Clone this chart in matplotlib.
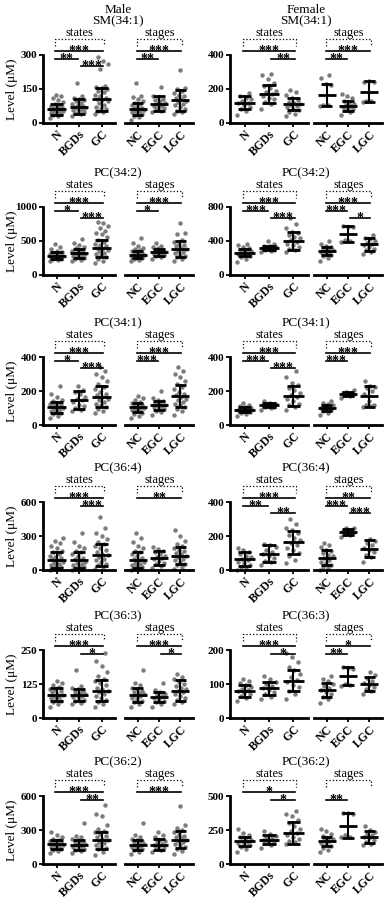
import matplotlib
matplotlib.use('Agg')
import matplotlib.pyplot as plt

plt.rcParams['font.family'] = ['Liberation Serif', 'DejaVu Serif']

W, H = 388, 906

state_names = ['N', 'BGDs', 'GC']
stage_names = ['NC', 'EGC', 'LGC']
lipids = ['SM(34:1)', 'PC(34:2)', 'PC(34:1)', 'PC(36:4)', 'PC(36:3)', 'PC(36:2)']

male_yticks = [[0, 150, 300], [0, 500, 1000], [0, 200, 400], [0, 300, 600], [0, 125, 250], [0, 300, 600]]
female_yticks = [[0, 200, 400], [0, 400, 800], [0, 200, 400], [0, 200, 400], [0, 100, 200], [0, 250, 500]]

# mean and SD per group: N, BGDs, GC, NC, EGC, LGC
male_means = [[60, 72, 105, 62, 85, 100], [285, 317, 390, 300, 335, 385], [103, 147, 165, 103, 116, 170],
              [88, 88, 132, 88, 108, 126], [85, 85, 101, 85, 77, 101], [175, 170, 210, 170, 172, 215]]
male_sds = [[25, 32, 50, 28, 33, 45], [50, 60, 130, 55, 50, 120], [30, 55, 62, 28, 25, 66],
            [70, 72, 95, 72, 60, 75], [24, 22, 40, 25, 20, 40], [40, 45, 75, 45, 50, 75]]
female_means = [[120, 170, 110, 165, 100, 185], [264, 318, 400, 285, 478, 360], [90, 115, 170, 102, 183, 168],
                [66, 97, 164, 72, 222, 126], [80, 87, 110, 83, 123, 100], [167, 180, 230, 167, 283, 200]]
female_sds = [[40, 55, 35, 65, 30, 60], [45, 25, 105, 45, 95, 80], [15, 12, 58, 18, 12, 60],
              [40, 52, 68, 45, 18, 50], [17, 20, 32, 20, 26, 20], [35, 30, 80, 35, 90, 45]]

# individual points (read approximately)
m_sm341 = [
    [22, 30, 35, 38, 42, 45, 48, 50, 52, 55, 57, 58, 60, 62, 65, 68, 70, 72, 75, 80, 85, 92, 100, 110, 118, 125],
    [30, 38, 45, 50, 55, 58, 62, 65, 68, 70, 72, 75, 78, 82, 88, 95, 100, 105, 112, 120, 175],
    [40, 48, 55, 60, 65, 72, 80, 88, 95, 100, 105, 110, 118, 125, 135, 142, 150, 155, 160, 165, 240, 260, 275, 290],
    [15, 25, 32, 38, 42, 48, 52, 55, 58, 62, 65, 68, 72, 78, 82, 88, 95, 105, 115, 120, 175],
    [50, 55, 60, 65, 70, 75, 80, 85, 90, 95, 100, 108, 115, 120, 160],
    [40, 48, 55, 62, 70, 78, 85, 92, 98, 104, 110, 118, 125, 132, 140, 148, 155, 235]]
m_pc342 = [
    [200, 215, 230, 240, 250, 258, 265, 272, 280, 285, 290, 298, 305, 312, 320, 330, 345, 360, 380, 410, 450],
    [200, 220, 240, 255, 265, 275, 285, 295, 305, 315, 325, 335, 345, 360, 375, 390, 410, 440, 470, 530],
    [180, 210, 240, 270, 290, 310, 330, 350, 370, 385, 400, 420, 440, 460, 490, 510, 560, 600, 620, 650, 690, 720, 760, 780],
    [200, 215, 230, 245, 255, 265, 275, 285, 295, 305, 315, 325, 335, 350, 365, 380, 400, 430, 470, 540],
    [240, 260, 275, 290, 300, 310, 320, 330, 340, 350, 360, 375, 390, 410, 430, 470],
    [200, 230, 260, 280, 300, 320, 340, 360, 380, 400, 420, 440, 460, 490, 510, 600, 620, 770]]
m_pc341 = [
    [40, 55, 65, 72, 78, 84, 90, 95, 100, 105, 110, 115, 120, 126, 132, 140, 150, 165, 180, 230],
    [80, 90, 100, 110, 120, 135, 145, 155, 165, 180, 195, 205, 230],
    [70, 85, 95, 105, 115, 125, 135, 145, 155, 165, 175, 185, 195, 210, 225, 240, 260, 280, 300, 320, 340],
    [40, 55, 65, 72, 80, 86, 92, 97, 102, 107, 112, 118, 124, 130, 138, 148, 160, 170],
    [60, 75, 85, 92, 98, 104, 110, 115, 120, 126, 132, 140, 150, 160, 200],
    [60, 80, 95, 105, 115, 125, 135, 145, 155, 165, 175, 185, 195, 210, 225, 240, 260, 280, 300, 320, 340]]
m_pc364 = [
    [0, 5, 15, 25, 35, 45, 55, 65, 75, 85, 95, 105, 115, 125, 140, 155, 170, 190, 210, 240, 260, 280],
    [0, 5, 15, 25, 35, 45, 55, 65, 75, 85, 95, 110, 125, 140, 155, 170, 190, 215, 250, 330],
    [10, 25, 40, 55, 70, 85, 100, 115, 130, 145, 160, 175, 190, 210, 230, 250, 270, 300, 330, 370, 470],
    [0, 5, 15, 25, 35, 45, 55, 65, 75, 85, 95, 110, 125, 140, 155, 170, 190, 215, 250, 280, 330],
    [20, 35, 50, 65, 80, 95, 105, 115, 125, 140, 155, 170, 185, 200],
    [10, 25, 40, 55, 70, 85, 100, 112, 125, 138, 150, 165, 180, 195, 210, 230, 260, 300, 350]]
m_pc363 = [
    [40, 50, 58, 64, 70, 74, 78, 82, 86, 90, 94, 98, 103, 108, 114, 120, 128, 135],
    [50, 56, 62, 68, 72, 76, 80, 84, 88, 92, 96, 100, 105, 110, 118, 175],
    [40, 50, 60, 68, 75, 82, 88, 94, 100, 106, 112, 120, 128, 136, 145, 155, 170, 190, 210, 240],
    [40, 50, 58, 64, 70, 75, 80, 84, 88, 92, 96, 100, 106, 112, 120, 128, 175],
    [40, 50, 58, 64, 70, 75, 80, 85, 90, 96, 102, 130],
    [50, 58, 66, 74, 82, 88, 94, 100, 106, 112, 118, 126, 134, 142, 150, 160]]
m_pc362 = [
    [100, 115, 125, 135, 145, 152, 160, 166, 172, 178, 184, 190, 198, 206, 215, 225, 240, 260, 280],
    [100, 115, 125, 135, 145, 152, 160, 168, 175, 182, 190, 198, 208, 220, 235, 250, 360],
    [80, 110, 130, 145, 160, 172, 185, 198, 210, 222, 235, 248, 262, 278, 295, 310, 340, 420, 440, 520],
    [90, 110, 122, 134, 145, 154, 162, 170, 178, 186, 194, 202, 212, 225, 240, 260, 360],
    [110, 125, 140, 150, 160, 170, 180, 190, 200, 215, 235, 260, 280],
    [90, 115, 135, 150, 165, 178, 190, 202, 214, 226, 238, 250, 265, 280, 300, 320, 340, 510]]

f_sm341 = [
    [50, 70, 85, 95, 105, 115, 120, 130, 140, 150, 160, 175],
    [80, 110, 125, 140, 150, 160, 170, 180, 190, 205, 220, 235, 260, 280, 290],
    [40, 55, 65, 75, 85, 95, 100, 105, 110, 118, 125, 135, 150, 165, 180, 195],
    [100, 105, 108, 225, 232, 262, 285],
    [50, 65, 75, 82, 90, 95, 100, 105, 112, 120, 130, 145, 160, 170],
    [125, 128, 130, 240, 245, 242]]
f_pc342 = [
    [150, 190, 210, 225, 240, 250, 260, 270, 280, 290, 300, 315, 330, 350, 370],
    [270, 285, 295, 300, 308, 315, 320, 325, 330, 338, 345, 360, 400],
    [270, 290, 310, 330, 350, 370, 390, 410, 430, 450, 470, 490, 510, 550, 600, 670],
    [160, 200, 220, 240, 255, 265, 275, 285, 295, 305, 315, 330, 345, 370, 400],
    [390, 400, 410, 560, 570, 580],
    [250, 270, 290, 310, 330, 350, 365, 380, 400, 420, 440, 470]]
f_pc341 = [
    [55, 65, 72, 78, 83, 87, 90, 94, 98, 103, 110, 118, 130],
    [90, 98, 104, 108, 112, 115, 118, 122, 126, 132, 140],
    [90, 105, 115, 125, 140, 155, 165, 175, 190, 205, 220, 235, 250, 280, 320],
    [60, 72, 80, 88, 94, 100, 105, 110, 116, 122, 130, 140],
    [160, 168, 174, 178, 182, 186, 190, 196, 205],
    [105, 110, 115, 120, 140, 180, 200, 220, 225, 230, 260]]
f_pc364 = [
    [0, 10, 20, 30, 40, 50, 58, 66, 75, 85, 95, 105, 115, 130],
    [30, 45, 55, 70, 85, 95, 105, 120, 135, 145, 155],
    [40, 60, 80, 100, 115, 130, 145, 160, 175, 190, 205, 220, 235, 250, 270, 300],
    [0, 10, 20, 30, 40, 50, 60, 70, 80, 90, 100, 110, 120, 135, 150, 160],
    [195, 205, 212, 218, 224, 230, 238, 245, 250],
    [50, 75, 90, 105, 120, 130, 145, 160, 170, 180]]
f_pc363 = [
    [50, 58, 64, 70, 74, 78, 82, 86, 90, 96, 102, 110, 115],
    [55, 62, 70, 76, 82, 88, 94, 100, 106, 115, 125],
    [55, 70, 80, 90, 98, 105, 112, 120, 130, 140, 150, 165, 180, 190],
    [45, 55, 62, 70, 76, 82, 88, 94, 100, 108, 116, 125],
    [95, 98, 100, 145, 148, 150],
    [70, 78, 86, 92, 98, 104, 110, 118, 126, 135]]
f_pc362 = [
    [90, 110, 125, 138, 148, 156, 164, 172, 180, 190, 200, 215, 230, 255],
    [120, 140, 155, 165, 172, 180, 188, 196, 205, 220, 240],
    [150, 160, 170, 185, 200, 215, 230, 245, 260, 280, 300, 320, 350, 370, 390],
    [90, 105, 120, 135, 148, 158, 166, 174, 182, 192, 205, 220, 240, 260],
    [195, 200, 210, 370, 372, 378],
    [140, 150, 160, 175, 190, 200, 210, 222, 235, 250, 280]]

male_points = [m_sm341, m_pc342, m_pc341, m_pc364, m_pc363, m_pc362]
female_points = [f_sm341, f_pc342, f_pc341, f_pc364, f_pc363, f_pc362]

# significance: (0=states / 1=stages, group i, group j, label)
male_sig = [
    [(0, 0, 2, '***'), (0, 0, 1, '**'), (0, 1, 2, '***'), (1, 0, 2, '***'), (1, 0, 1, '**')],
    [(0, 0, 2, '***'), (0, 0, 1, '*'), (0, 1, 2, '***'), (1, 0, 2, '***'), (1, 0, 1, '*')],
    [(0, 0, 2, '***'), (0, 0, 1, '*'), (0, 1, 2, '***'), (1, 0, 2, '***'), (1, 0, 1, '***')],
    [(0, 0, 2, '***'), (0, 1, 2, '***'), (1, 0, 2, '**')],
    [(0, 0, 2, '***'), (0, 1, 2, '*'), (1, 0, 2, '***'), (1, 1, 2, '*')],
    [(0, 0, 2, '***'), (0, 1, 2, '**'), (1, 0, 2, '***')]]
female_sig = [
    [(0, 0, 2, '***'), (0, 1, 2, '**'), (1, 0, 2, '***'), (1, 0, 1, '**')],
    [(0, 0, 2, '***'), (0, 0, 1, '***'), (0, 1, 2, '***'), (1, 0, 2, '***'), (1, 0, 1, '***'), (1, 1, 2, '*')],
    [(0, 0, 2, '***'), (0, 0, 1, '***'), (0, 1, 2, '***'), (1, 0, 2, '***'), (1, 0, 1, '***')],
    [(0, 0, 2, '***'), (0, 0, 1, '**'), (0, 1, 2, '**'), (1, 0, 2, '**'), (1, 0, 1, '***'), (1, 1, 2, '***')],
    [(0, 0, 2, '***'), (0, 1, 2, '*'), (1, 0, 2, '*'), (1, 0, 1, '**')],
    [(0, 0, 2, '*'), (0, 1, 2, '*'), (1, 0, 1, '**')]]

# layout in pixels
row_tops = [55, 207, 357, 502, 650, 796]
AX_H = 68
cols = {'male': ((43, 115), (125, 193)), 'female': ((230, 308), (314, 382))}

fig = plt.figure(figsize=(W / 100, H / 100), dpi=100)


def add_px_axes(x0, x1, ytop):
    return fig.add_axes([x0 / W, 1 - (ytop + AX_H) / H, (x1 - x0) / W, AX_H / H])


def draw_groups(ax, pts, means, sds, names, ymax):
    for g in range(3):
        vals = pts[g]
        n = len(vals)
        xs = [g + (((k * 0.618) % 1.0) - 0.5) * 0.62 for k in range(n)]
        ax.plot(xs, vals, 'o', ms=3.2, color='#7c7c7c', mew=0, zorder=2, clip_on=False)
        m, s = means[g], sds[g]
        ax.plot([g - 0.42, g + 0.42], [m, m], color='k', lw=2, zorder=3, solid_capstyle='butt')
        ax.plot([g, g], [m - s, m + s], color='k', lw=1.5, zorder=3)
        for c in (m - s, m + s):
            ax.plot([g - 0.27, g + 0.27], [c, c], color='k', lw=2, zorder=3, solid_capstyle='butt')
    ax.set_xlim(-0.6, 2.6)
    ax.set_ylim(0, ymax)
    ax.set_xticks(range(3))
    ax.set_xticklabels(names, rotation=45, ha='right', rotation_mode='anchor',
                       fontsize=8.5, fontweight='bold')
    ax.tick_params(axis='x', length=3, width=1.3, pad=1)
    ax.spines['top'].set_visible(False)
    ax.spines['right'].set_visible(False)
    ax.spines['bottom'].set_linewidth(2)


def yf(off):
    return 1 + off / AX_H


def draw_sig(ax, sigs, label):
    tr = ax.get_xaxis_transform()
    # dotted bracket over the three groups
    ax.plot([-0.05, -0.05, 2.1, 2.1], [yf(9), yf(16), yf(16), yf(9)], ls=':', color='k', lw=0.9,
            transform=tr, clip_on=False)
    ax.text(1.02, yf(22), label, transform=tr, ha='center', va='center', fontsize=9)
    has01 = any(i == 0 and j == 1 for i, j, _ in sigs)
    for i, j, lab in sigs:
        if i == 0 and j == 2:
            off = 4
            x1, x2 = -0.05, 2.05
        elif i == 0 and j == 1:
            off = -4
            x1, x2 = -0.05, 0.95
        else:
            off = -11 if has01 else -4
            x1, x2 = 1.1, 2.05
        ax.plot([x1, x2], [yf(off), yf(off)], color='k', lw=1.2, transform=tr, clip_on=False)
        ax.text((x1 + x2) / 2, yf(off - 4), lab, transform=tr,
                ha='center', va='baseline', fontsize=10, fontweight='bold')


for sex, tick_list, means_all, sds_all, pts_all, sig_all in [
        ('male', male_yticks, male_means, male_sds, male_points, male_sig),
        ('female', female_yticks, female_means, female_sds, female_points, female_sig)]:
    (lx0, lx1), (rx0, rx1) = cols[sex]
    for r in range(6):
        top = row_tops[r]
        ymax = tick_list[r][-1]
        axl = add_px_axes(lx0, lx1, top)
        axr = add_px_axes(rx0, rx1, top)
        draw_groups(axl, pts_all[r][:3], means_all[r][:3], sds_all[r][:3], state_names, ymax)
        draw_groups(axr, pts_all[r][3:], means_all[r][3:], sds_all[r][3:], stage_names, ymax)
        axl.set_yticks(tick_list[r])
        axl.set_yticklabels([str(t) for t in tick_list[r]], fontsize=8, fontweight='bold')
        axl.tick_params(axis='y', length=3, width=1.3, pad=1)
        axl.spines['left'].set_linewidth(2)
        axr.spines['left'].set_visible(False)
        axr.set_yticks([])
        draw_sig(axl, [(i, j, s) for side, i, j, s in sig_all[r] if side == 0], 'states')
        draw_sig(axr, [(i, j, s) for side, i, j, s in sig_all[r] if side == 1], 'stages')
        cx = (lx0 + rx1) / 2
        fig.text(cx / W, 1 - (top - 34) / H, lipids[r], ha='center', va='center', fontsize=9.5)
        if r == 0:
            fig.text(cx / W, 1 - (top - 45) / H, 'Male' if sex == 'male' else 'Female',
                     ha='center', va='center', fontsize=9.5)
        if sex == 'male':
            fig.text(12 / W, 1 - (top + AX_H / 2) / H, 'Level (μM)', rotation=90,
                     ha='center', va='center', fontsize=9.5)

fig.savefig('out.png', dpi=100)
